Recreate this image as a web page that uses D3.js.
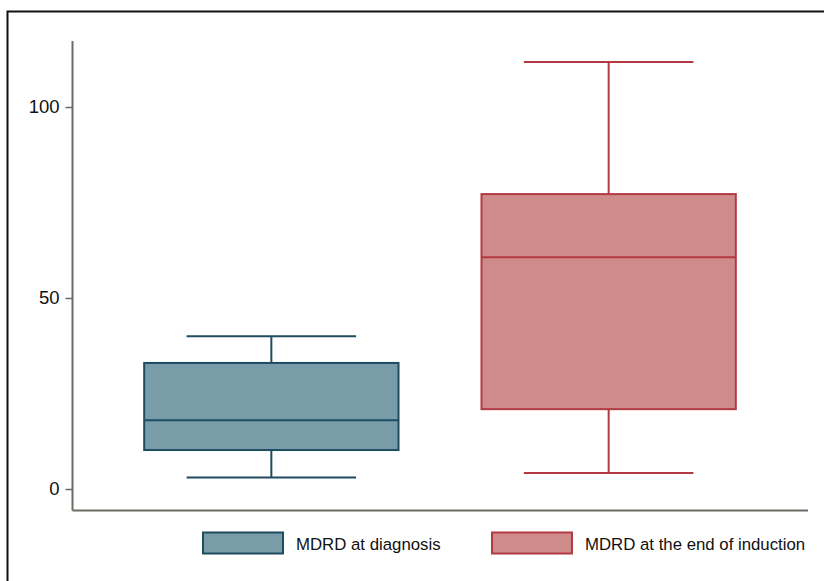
<!DOCTYPE html>
<html>
<head>
<meta charset="utf-8">
<script src="https://cdn.jsdelivr.net/npm/d3@7"></script>
<style>
  body { margin: 0; background: #fff; }
  svg { display: block; font-family: "Liberation Sans", Arial, sans-serif; }
</style>
</head>
<body>
<div id="chart"></div>
<script>
// box plot summaries
var groups = ["MDRD at diagnosis", "MDRD at the end of induction"];
var lowWhisker = [3, 4.2];
var q1 = [10.2, 20.9];
var median = [18, 60.7];
var q3 = [33, 77.2];
var highWhisker = [40, 111.8];
var yTicks = [0, 50, 100];

var fills = ["#789ca8", "#cf8b8a"];
var strokes = ["#1e4c60", "#b23a43"];

var width = 824, height = 581;
var svg = d3.select("#chart").append("svg")
    .attr("width", width)
    .attr("height", height);

// outer frame
svg.append("rect")
    .attr("x", 7.5).attr("y", 11.5)
    .attr("width", 830).attr("height", 600)
    .attr("fill", "none")
    .attr("stroke", "#111")
    .attr("stroke-width", 2);

var x = d3.scaleBand()
    .domain(groups)
    .range([72, 808])
    .paddingInner(0.246)
    .paddingOuter(0.214);

var y = d3.scaleLinear()
    .domain([0, 100])
    .range([489, 107]);

// axes
var axisColor = "#6b6b63";
svg.append("line")
    .attr("x1", 72.5).attr("x2", 72.5)
    .attr("y1", 41).attr("y2", 510.5)
    .attr("stroke", axisColor).attr("stroke-width", 2);
svg.append("line")
    .attr("x1", 72.5).attr("x2", 808)
    .attr("y1", 510.5).attr("y2", 510.5)
    .attr("stroke", axisColor).attr("stroke-width", 2);

var yAxis = d3.axisLeft(y).tickValues(yTicks).tickSize(7).tickPadding(6);
var ga = svg.append("g")
    .attr("transform", "translate(72.5,0)")
    .call(yAxis);
ga.select(".domain").remove();
ga.selectAll(".tick line").attr("stroke", axisColor).attr("stroke-width", 1.5);
ga.selectAll(".tick text")
    .attr("fill", "#111")
    .style("font-size", "18.5px")
    .style("font-family", "Liberation Sans, Arial, sans-serif");

// boxes
groups.forEach(function(g, i) {
    var x0 = x(g), bw = x.bandwidth(), cx = x0 + bw / 2;
    var capHalf = bw / 3;
    var gg = svg.append("g");
    // whiskers
    gg.append("line")
        .attr("x1", cx).attr("x2", cx)
        .attr("y1", y(highWhisker[i])).attr("y2", y(q3[i]))
        .attr("stroke", strokes[i]).attr("stroke-width", 2);
    gg.append("line")
        .attr("x1", cx).attr("x2", cx)
        .attr("y1", y(q1[i])).attr("y2", y(lowWhisker[i]))
        .attr("stroke", strokes[i]).attr("stroke-width", 2);
    gg.append("line")
        .attr("x1", cx - capHalf).attr("x2", cx + capHalf)
        .attr("y1", y(highWhisker[i])).attr("y2", y(highWhisker[i]))
        .attr("stroke", strokes[i]).attr("stroke-width", 2);
    gg.append("line")
        .attr("x1", cx - capHalf).attr("x2", cx + capHalf)
        .attr("y1", y(lowWhisker[i])).attr("y2", y(lowWhisker[i]))
        .attr("stroke", strokes[i]).attr("stroke-width", 2);
    // box
    gg.append("rect")
        .attr("x", x0).attr("y", y(q3[i]))
        .attr("width", bw).attr("height", y(q1[i]) - y(q3[i]))
        .attr("fill", fills[i])
        .attr("stroke", strokes[i]).attr("stroke-width", 2);
    gg.append("line")
        .attr("x1", x0).attr("x2", x0 + bw)
        .attr("y1", y(median[i])).attr("y2", y(median[i]))
        .attr("stroke", strokes[i]).attr("stroke-width", 2);
});

// legend
var legendX = [203, 492];
groups.forEach(function(g, i) {
    svg.append("rect")
        .attr("x", legendX[i]).attr("y", 532.5)
        .attr("width", 80).attr("height", 21)
        .attr("fill", fills[i])
        .attr("stroke", strokes[i]).attr("stroke-width", 2);
    svg.append("text")
        .attr("x", legendX[i] + 93).attr("y", 550)
        .attr("fill", "#111")
        .style("font-size", "16.8px")
        .text(g);
});
</script>
</body>
</html>
